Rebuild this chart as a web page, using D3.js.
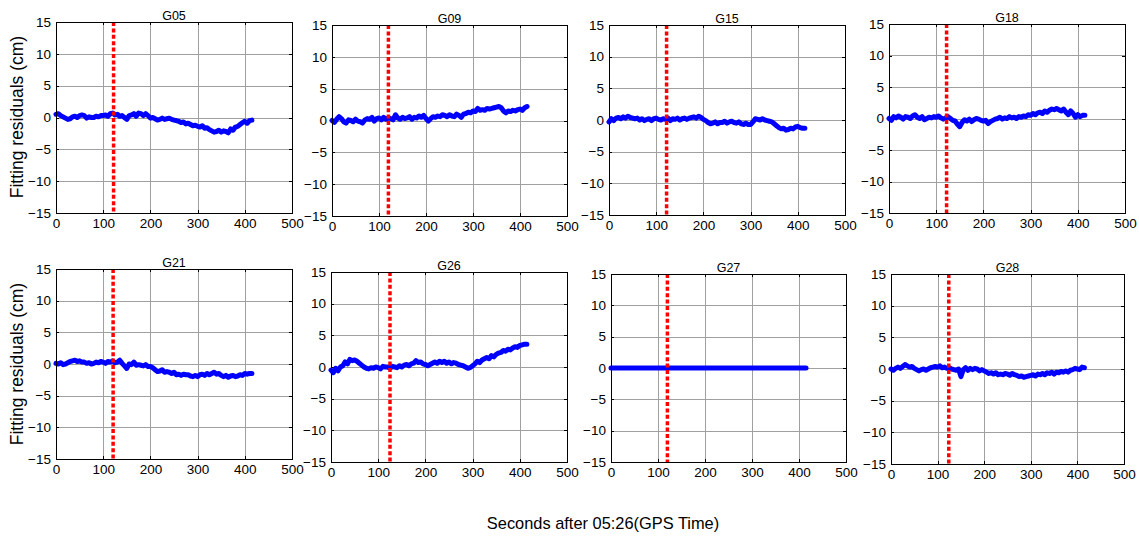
<!DOCTYPE html>
<meta charset="utf-8">
<head>
    <title>Fitting residuals</title>
    <script src="https://cdn.jsdelivr.net/npm/d3@7"></script>
</head>

<style>
    body { margin: 0; background: #fff; }
    svg { font-family: "Liberation Sans", Arial, Helvetica, sans-serif; }
    .grid line { stroke: #a0a0a0; stroke-width: 1; shape-rendering: crispEdges; }
    .box { fill: none; stroke: #000; stroke-width: 1; shape-rendering: crispEdges; }
    .axis path { display: none; }
    .axis line { stroke: #000; shape-rendering: crispEdges; }
    .axis text { font-size: 13.5px; fill: #000; }
    .series { fill: none; stroke: #0000ff; stroke-width: 5; stroke-linejoin: round; stroke-linecap: round; }
    .switch { stroke: #ff0000; stroke-width: 3.5; stroke-dasharray: 4 2.4; }
    .title { font-size: 12.5px; text-anchor: middle; }
</style>
<svg></svg>

<script>
    var vWidth = 1139;
    var vHeight = 538;

    // satellites, one panel each
    var satellites = ["G05", "G09", "G15", "G18", "G21", "G26", "G27", "G28"];

    // sample times (s)
    var seconds = [0, 5, 10, 15, 20, 25, 30, 35, 40, 45, 50, 55,
        60, 65, 70, 75, 80, 85, 90, 95, 100, 105, 110, 115,
        120, 125, 130, 135, 140, 145, 150, 155, 160, 165, 170, 175,
        180, 185, 190, 195, 200, 205, 210, 215, 220, 225, 230, 235,
        240, 245, 250, 255, 260, 265, 270, 275, 280, 285, 290, 295,
        300, 305, 310, 315, 320, 325, 330, 335, 340, 345, 350, 355,
        360, 365, 370, 375, 380, 385, 390, 395, 400, 405, 410, 415];

    // fitting residuals (cm)
    var g05 = [0.5, 0.6, 0.3, 0.1, -0.1, -0.3, -0.2, 0.1, 0.2, 0.0, 0.3, 0.4,
        0.3, -0.1, 0.1, 0.0, 0.0, 0.2, 0.1, 0.3, 0.3, 0.4, 0.2, 0.6,
        0.7, 0.4, 0.5, 0.2, 0.3, 0.0, -0.3, 0.3, 0.4, 0.6, 0.2, 0.7,
        0.6, 0.3, 0.6, 0.3, -0.1, 0.0, -0.2, -0.4, -0.3, -0.1, -0.3, -0.2,
        -0.1, -0.3, -0.4, -0.5, -0.6, -0.8, -0.7, -1.0, -0.9, -1.1, -1.3, -1.2,
        -1.4, -1.5, -1.3, -1.7, -1.6, -1.9, -2.1, -2.3, -2.2, -2.0, -2.3, -2.1,
        -2.2, -2.4, -1.8, -2.0, -1.5, -1.4, -1.1, -0.8, -0.6, -0.9, -0.5, -0.4];
    var g09 = [0.0, -0.3, 0.2, 0.6, 0.3, -0.2, -0.4, 0.1, 0.0, -0.2, 0.2, -0.1,
        -0.2, -0.4, 0.1, 0.3, 0.2, 0.5, -0.1, 0.3, 0.4, 0.1, 0.5, 0.2,
        0.4, 0.3, 0.1, 0.9, 0.4, 0.2, 0.5, 0.3, 0.4, 0.6, 0.2, 0.5,
        0.4, 0.7, 0.5, 0.8, 0.3, -0.1, 0.3, 0.6, 0.5, 0.7, 0.6, 0.9,
        0.8, 0.6, 0.9, 0.7, 0.6, 1.0, 0.8, 0.5, 1.0, 1.1, 1.3, 1.2,
        1.5, 1.4, 1.9, 1.6, 1.7, 1.6, 1.9, 1.8, 1.9, 2.0, 2.1, 2.2,
        2.0, 1.5, 1.2, 1.5, 1.4, 1.6, 1.5, 1.7, 1.8, 1.6, 2.0, 2.2];
    var g15 = [-0.3, 0.2, -0.1, 0.3, 0.4, 0.2, 0.5, 0.3, 0.6, 0.4, 0.3, 0.2,
        0.3, 0.0, 0.2, -0.1, 0.1, 0.2, -0.1, 0.2, 0.3, 0.1, 0.0, 0.2,
        0.1, 0.3, -0.1, 0.2, 0.1, 0.3, 0.0, 0.2, 0.3, 0.1, 0.3, 0.4,
        0.5, 0.3, 0.6, 0.4, 0.1, -0.1, -0.4, -0.6, -0.5, -0.3, -0.6, -0.4,
        -0.4, -0.2, -0.5, -0.3, -0.2, -0.4, -0.5, -0.3, -0.6, -0.7, -0.5, -0.7,
        -0.7, -0.3, 0.2, 0.1, 0.0, 0.2, 0.0, -0.1, -0.2, -0.3, -0.6, -0.9,
        -1.2, -1.4, -1.3, -1.6, -1.5, -1.3, -1.4, -1.1, -1.0, -1.2, -1.3, -1.3];
    var g18 = [0.0, -0.3, 0.3, 0.1, 0.4, 0.2, -0.1, 0.3, 0.2, 0.0, 0.4, 0.6,
        0.2, 0.0, 0.3, -0.2, 0.0, 0.2, 0.1, 0.3, 0.2, 0.4, 0.1, -0.1,
        0.1, 0.3, 0.0, -0.3, -0.4, -0.9, -1.3, -0.6, -0.2, -0.4, -0.1, -0.5,
        -0.2, 0.0, -0.1, -0.3, -0.4, -0.3, -0.8, -0.5, -0.3, -0.1, 0.0, 0.2,
        -0.1, 0.1, 0.0, 0.3, 0.1, 0.2, 0.0, 0.3, 0.2, 0.4, 0.3, 0.6,
        0.5, 0.8, 0.6, 0.9, 1.0, 0.8, 1.2, 1.0, 1.3, 1.5, 1.4, 1.6,
        1.4, 1.2, 1.5, 1.0, 0.6, 1.2, 0.8, 0.2, 0.6, 0.3, 0.5, 0.5];
    var g21 = [0.1, 0.0, 0.2, -0.1, 0.0, 0.2, 0.4, 0.5, 0.6, 0.4, 0.5, 0.3,
        0.3, 0.1, 0.2, 0.0, 0.1, 0.3, 0.2, 0.4, 0.3, 0.1, 0.4, 0.3,
        0.5, 0.2, 0.3, 0.6, 0.1, -0.3, -0.7, 0.0, -0.1, 0.3, -0.2, -0.1,
        -0.2, -0.3, -0.1, -0.4, -0.4, -0.6, -0.9, -1.2, -1.1, -0.9, -1.3, -1.2,
        -1.3, -1.5, -1.3, -1.7, -1.6, -1.8, -1.6, -1.7, -1.7, -1.9, -2.0, -1.8,
        -2.0, -1.7, -1.6, -1.8, -1.5, -1.7, -1.5, -1.3, -1.6, -1.5, -1.8, -2.0,
        -1.8, -2.1, -1.9, -1.8, -2.0, -1.9, -1.7, -1.8, -1.5, -1.6, -1.5, -1.5];
    var g26 = [-0.5, -0.9, -0.2, -0.6, 0.0, 0.2, 0.8, 0.5, 1.2, 1.0, 1.1, 0.9,
        0.6, 0.3, 0.0, -0.2, -0.3, -0.1, -0.2, 0.0, -0.1, -0.3, 0.1, 0.0,
        0.0, -0.2, 0.1, 0.0, -0.1, 0.2, 0.0, 0.3, 0.4, 0.2, 0.5, 0.6,
        1.0, 0.7, 0.8, 0.5, 0.4, 0.2, 0.4, 0.6, 0.8, 0.6, 0.9, 0.7,
        0.9, 0.6, 0.8, 0.5, 0.7, 0.6, 0.4, 0.3, 0.2, 0.0, -0.2, -0.1,
        0.2, 0.5, 0.9, 0.7, 1.1, 1.3, 1.5, 1.3, 1.8, 1.6, 2.0, 2.2,
        2.3, 2.6, 2.5, 2.8, 2.7, 3.0, 3.2, 3.1, 3.4, 3.5, 3.6, 3.6];
    var g27 = [0, 0, 0, 0, 0, 0, 0, 0, 0, 0, 0, 0,
        0, 0, 0, 0, 0, 0, 0, 0, 0, 0, 0, 0,
        0, 0, 0, 0, 0, 0, 0, 0, 0, 0, 0, 0,
        0, 0, 0, 0, 0, 0, 0, 0, 0, 0, 0, 0,
        0, 0, 0, 0, 0, 0, 0, 0, 0, 0, 0, 0,
        0, 0, 0, 0, 0, 0, 0, 0, 0, 0, 0, 0,
        0, 0, 0, 0, 0, 0, 0, 0, 0, 0, 0, 0];
    var g28 = [0.0, -0.2, 0.1, 0.3, 0.1, 0.4, 0.7, 0.5, 0.3, 0.4, 0.1, -0.1,
        -0.3, -0.1, 0.0, -0.2, 0.0, 0.2, 0.3, 0.4, 0.3, 0.5, 0.2, 0.3,
        0.1, 0.2, 0.0, -0.1, -0.2, 0.0, -1.2, -0.1, 0.2, -0.2, 0.1, -0.1,
        0.1, 0.0, -0.3, -0.1, -0.3, -0.5, -0.7, -0.6, -0.8, -0.6, -0.9, -0.8,
        -0.9, -0.7, -0.8, -1.0, -0.7, -0.9, -1.0, -1.2, -1.1, -1.3, -1.2, -1.1,
        -1.0, -0.9, -1.1, -0.8, -0.9, -0.7, -0.9, -0.6, -0.7, -0.5, -0.8, -0.5,
        -0.6, -0.4, -0.5, -0.3, -0.5, -0.2, -0.1, 0.1, 0.0, -0.1, 0.3, 0.2];

    // red dotted marker time for each panel (s)
    var switchTimes = [122, 120, 122, 122, 121, 125, 120, 124];

    var xTicks = [0, 100, 200, 300, 400, 500];
    var yTicks = [-15, -10, -5, 0, 5, 10, 15];

    var residuals = [g05, g09, g15, g18, g21, g26, g27, g28];

    // panel boxes on the page: left, right, top, bottom
    var vBoxes = [
        [56, 292, 22, 213], [332, 567, 25, 216], [609, 845, 25, 215], [889, 1125, 24, 213],
        [56, 292, 269, 459], [331, 567, 272, 462], [611, 846, 274, 462], [891, 1124, 274, 464]
    ];

    var svg = d3.select('svg').attr('width', vWidth).attr('height', vHeight);

    satellites.forEach(function (sat, i) {
        var b = vBoxes[i];
        var x = d3.scaleLinear().domain([0, 500]).range([b[0], b[1]]);
        var y = d3.scaleLinear().domain([-15, 15]).range([b[3], b[2]]);
        var g = svg.append('g');

        // grid
        var grid = g.append('g').attr('class', 'grid');
        grid.selectAll('line.v').data(xTicks.slice(1, -1)).enter().append('line')
            .attr('x1', function (d) { return Math.round(x(d)) + 0.5; })
            .attr('x2', function (d) { return Math.round(x(d)) + 0.5; })
            .attr('y1', b[2]).attr('y2', b[3]);
        grid.selectAll('line.h').data(yTicks.slice(1, -1)).enter().append('line')
            .attr('y1', function (d) { return Math.round(y(d)) + 0.5; })
            .attr('y2', function (d) { return Math.round(y(d)) + 0.5; })
            .attr('x1', b[0]).attr('x2', b[1]);

        // axes, ticks inward on all four sides
        g.append('g').attr('class', 'axis').attr('transform', 'translate(' + b[0] + ',0)')
            .call(d3.axisLeft(y).tickValues(yTicks).tickSize(-3).tickPadding(5));
        g.append('g').attr('class', 'axis').attr('transform', 'translate(' + b[1] + ',0)')
            .call(d3.axisRight(y).tickValues(yTicks).tickSize(-3).tickFormat(''));
        g.append('g').attr('class', 'axis').attr('transform', 'translate(0,' + b[3] + ')')
            .call(d3.axisBottom(x).tickValues(xTicks).tickSize(-3).tickPadding(5));
        g.append('g').attr('class', 'axis').attr('transform', 'translate(0,' + b[2] + ')')
            .call(d3.axisTop(x).tickValues(xTicks).tickSize(-3).tickFormat(''));

        // residual series
        var line = d3.line()
            .x(function (d, k) { return x(seconds[k]); })
            .y(function (d) { return y(d); });
        g.append('path').attr('class', 'series').attr('d', line(residuals[i]));

        // red dotted marker
        g.append('line').attr('class', 'switch')
            .attr('x1', x(switchTimes[i])).attr('x2', x(switchTimes[i]))
            .attr('y1', y(15)).attr('y2', y(-15));

        g.append('rect').attr('class', 'box')
            .attr('x', b[0] + 0.5).attr('y', b[2] + 0.5)
            .attr('width', b[1] - b[0]).attr('height', b[3] - b[2]);

        g.append('text').attr('class', 'title')
            .attr('x', (b[0] + b[1]) / 2).attr('y', b[2] - 2).text(sat);
    });

    // shared labels
    [117, 364].forEach(function (cy) {
        svg.append('text').attr('transform', 'translate(23,' + cy + ') rotate(-90)')
            .attr('text-anchor', 'middle').style('font-size', '17.5px')
            .text('Fitting residuals (cm)');
    });
    svg.append('text').attr('x', 603).attr('y', 529)
        .attr('text-anchor', 'middle').style('font-size', '16.4px')
        .text('Seconds after 05:26(GPS Time)');
</script>
